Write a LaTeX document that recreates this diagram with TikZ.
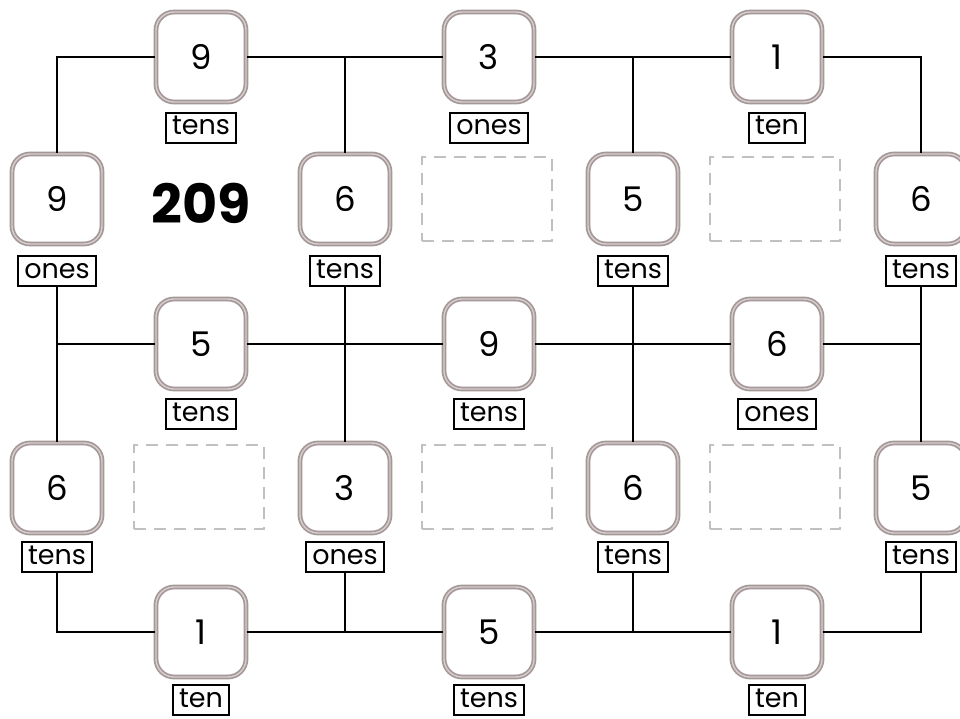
\documentclass[tikz,border=0pt]{standalone}
\usepackage{fontspec}
\setmainfont{Poppins}
\definecolor{boxgray}{HTML}{A59898}
\definecolor{boxin}{HTML}{D6CDCD}
\definecolor{dashgray}{HTML}{C2BFBF}
\tikzset{
  numbox/.style={draw=boxgray, double=boxin, line width=1.7pt, double distance=1.4pt, fill=white,
    rounded corners=18pt, minimum width=90pt, minimum height=90pt, inner sep=0pt,
    font=\fontsize{34}{34}\selectfont},
  lbl/.style={draw=black, line width=1.9pt, fill=white, inner xsep=6pt, inner ysep=0pt,
    minimum height=30pt, text depth=5pt, text height=19pt, font=\fontsize{27}{27}\selectfont},
  emptybox/.style={draw=dashgray, line width=2.4pt, dash pattern=on 12pt off 8pt,
    minimum width=130pt, minimum height=84pt},
  wire/.style={line width=2.5pt, black}
}
\begin{document}
\begin{tikzpicture}[x=1pt,y=-1pt]
\useasboundingbox[fill=white] (0,0) rectangle (960,719);
% row 1
\node[numbox] (t1) at (201,57) {9};
\node[lbl] (t1l) at (201,128) {tens};
\node[numbox] (t2) at (489,57) {3};
\node[lbl] (t2l) at (489,128) {ones};
\node[numbox] (t3) at (777,57) {1};
\node[lbl] (t3l) at (777,128) {ten};
% row 2
\node[numbox] (a0) at (57,199) {9};
\node[lbl] (a0l) at (57,271) {ones};
\node[font=\fontsize{54}{54}\selectfont\bfseries] (num) at (201,203) {209};
\node[numbox] (a1) at (345,199) {6};
\node[lbl] (a1l) at (345,271) {tens};
\node[emptybox] (e1) at (487,199) {};
\node[numbox] (a2) at (633,199) {5};
\node[lbl] (a2l) at (633,271) {tens};
\node[emptybox] (e2) at (775,199) {};
\node[numbox] (a3) at (921,199) {6};
\node[lbl] (a3l) at (921,271) {tens};
% row 3
\node[numbox] (m1) at (201,344) {5};
\node[lbl] (m1l) at (201,414) {tens};
\node[numbox] (m2) at (489,344) {9};
\node[lbl] (m2l) at (489,414) {tens};
\node[numbox] (m3) at (777,344) {6};
\node[lbl] (m3l) at (777,414) {ones};
% row 4
\node[numbox] (b0) at (57,488) {6};
\node[lbl] (b0l) at (57,557) {tens};
\node[emptybox] (e3) at (199,487) {};
\node[numbox] (b1) at (345,488) {3};
\node[lbl] (b1l) at (345,557) {ones};
\node[emptybox] (e4) at (487,487) {};
\node[numbox] (b2) at (633,488) {6};
\node[lbl] (b2l) at (633,557) {tens};
\node[emptybox] (e5) at (775,487) {};
\node[numbox] (b3) at (921,488) {5};
\node[lbl] (b3l) at (921,557) {tens};
% row 5
\node[numbox] (l1) at (201,632) {1};
\node[lbl] (l1l) at (201,700) {ten};
\node[numbox] (l2) at (489,632) {5};
\node[lbl] (l2l) at (489,700) {tens};
\node[numbox] (l3) at (777,632) {1};
\node[lbl] (l3l) at (777,700) {ten};
% top wires
\draw[wire] (a0.north) |- (t1.west);
\draw[wire] (t1.east) -- (t2.west);
\draw[wire] (t2.east) -- (t3.west);
\draw[wire] (t3.east) -| (a3.north);
\draw[wire] (a1.north) -- (a1.north |- t1.east);
\draw[wire] (a2.north) -- (a2.north |- t2.east);
% middle wires
\draw[wire] (a0l.south) -- (b0.north);
\draw[wire] (a1l.south) -- (b1.north);
\draw[wire] (a2l.south) -- (b2.north);
\draw[wire] (a3l.south) -- (b3.north);
\draw[wire] (a0l.south |- m1.west) -- (m1.west);
\draw[wire] (m1.east) -- (m2.west);
\draw[wire] (m2.east) -- (m3.west);
\draw[wire] (m3.east) -- (m3.east -| a3l.south);
% bottom wires
\draw[wire] (b0l.south) |- (l1.west);
\draw[wire] (l1.east) -- (l2.west);
\draw[wire] (l2.east) -- (l3.west);
\draw[wire] (l3.east) -| (b3l.south);
\draw[wire] (b1l.south) -- (b1l.south |- l1.east);
\draw[wire] (b2l.south) -- (b2l.south |- l2.east);
\end{tikzpicture}
\end{document}
